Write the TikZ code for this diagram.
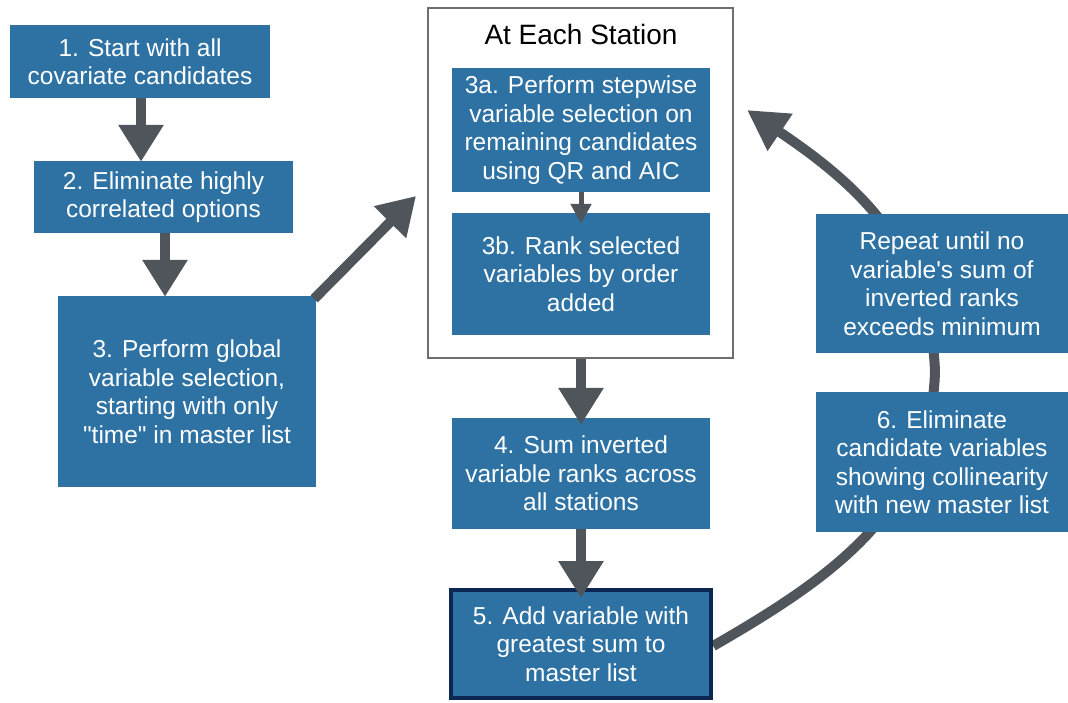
\documentclass[tikz,border=0pt]{standalone}
\usepackage{fontspec}
\setmainfont{Liberation Sans}
\usetikzlibrary{arrows.meta}
\definecolor{boxblue}{RGB}{46,114,164}
\definecolor{arrowgray}{RGB}{80,85,92}
\definecolor{navy}{RGB}{12,40,82}
\definecolor{framegray}{RGB}{110,110,110}
\begin{document}
\begin{tikzpicture}[x=1pt,y=1pt,
  blk/.style={fill=boxblue, draw=none, text=white, align=center, inner sep=0pt,
    font=\fontsize{24.5}{28.5}\selectfont},
  bigarrow/.style={draw=arrowgray, line width=10pt, -{Triangle[width=43pt,length=37pt]}},
  smallarrow/.style={draw=arrowgray, line width=5pt, -{Triangle[width=20pt,length=20pt]}},
  loopline/.style={draw=arrowgray, line width=10pt}
]
\useasboundingbox (0,0) rectangle (1068,702);
% station frame
\node[draw=framegray, line width=1.3pt, minimum width=305pt, minimum height=350pt, inner sep=0pt] (st) at (580.5,519) {};
\node[font=\fontsize{28}{32}\selectfont, text=black] (ttl) at (581,668) {At Each Station};
% loop connector (drawn behind boxes)
\coordinate (mid) at (935,330);
\coordinate (tip) at (747,592);
\node[blk, minimum width=264pt, minimum height=112pt] (b5) at (581,58) {};
\draw[loopline] (b5.east |- 0,56) to[out=30,in=-92] (mid);
\draw[draw=arrowgray, line width=10pt, -{Triangle[width=42pt,length=40pt]}] (mid) to[out=92,in=-34] (tip);
% boxes
\node[blk, minimum width=260pt, minimum height=73pt] (b1) at (140,640.5) {1. Start with all\\covariate candidates};
\node[blk, minimum width=259pt, minimum height=72pt] (b2) at (163.5,505) {2. Eliminate highly\\correlated options};
\node[blk, minimum width=258pt, minimum height=191pt] (b3) at (187,310.5) {3. Perform global\\variable selection,\\starting with only\\\textquotedbl time\textquotedbl{} in master list};
\node[blk, minimum width=258pt, minimum height=124pt] (b3a) at (581,572) {3a. Perform stepwise\\variable selection on\\remaining candidates\\using QR and AIC};
\node[blk, minimum width=258pt, minimum height=122pt] (b3b) at (581,428) {3b. Rank selected\\variables by order\\added};
\node[blk, minimum width=258pt, minimum height=111pt] (b4) at (581,228.5) {4. Sum inverted\\variable ranks across\\all stations};
\node[blk, draw=navy, line width=4pt, minimum width=260pt, minimum height=108pt] (b5t) at (581,58) {5. Add variable with\\greatest sum to\\master list};
\node[blk, minimum width=252pt, minimum height=139pt] (rep) at (942,418.5) {Repeat until no\\variable\textquotesingle s sum of\\inverted ranks\\exceeds minimum};
\node[blk, minimum width=252pt, minimum height=140pt] (b6) at (942,240) {6. Eliminate\\candidate variables\\showing collinearity\\with new master list};
% arrows
\draw[bigarrow] (b1.south -| 141,0) -- ([yshift=-1pt]b2.north -| 141,0);
\draw[bigarrow] (b2.south -| 165,0) -- ([yshift=-1pt]b3.north -| 165,0);
\coordinate (dtip) at (416,506);
\draw[bigarrow] ([xshift=-2pt,yshift=-3pt]b3.north east) -- (dtip);
\draw[smallarrow] (b3a.south) -- ([yshift=-11pt]b3b.north);
\draw[bigarrow] (st.south -| 581,0) -- ([yshift=-7pt]b4.north);
\draw[bigarrow] (b4.south) -- ([yshift=-10pt]b5t.north);
\end{tikzpicture}
\end{document}
